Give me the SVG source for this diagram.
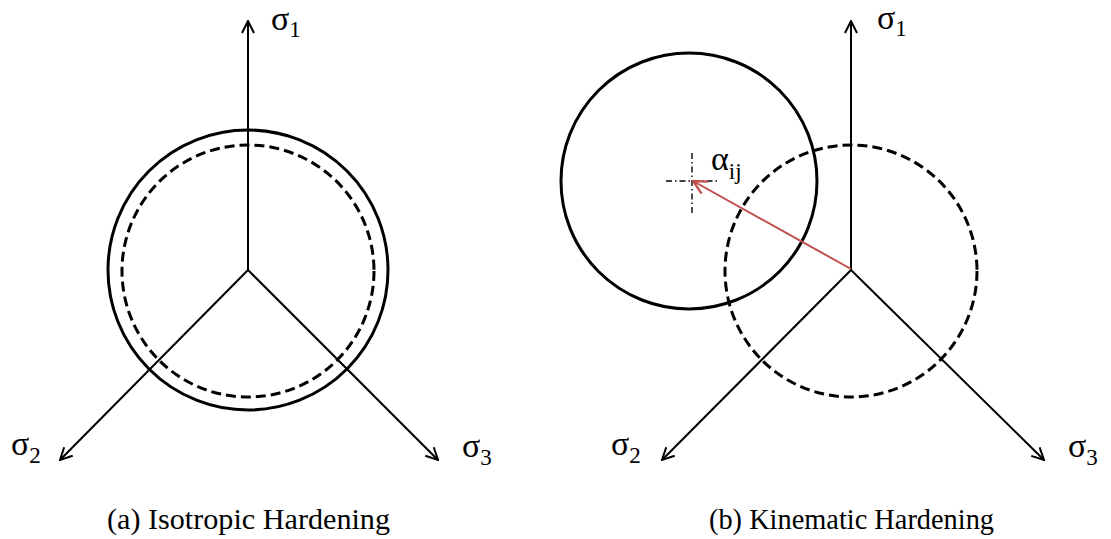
<svg xmlns="http://www.w3.org/2000/svg" width="1111" height="539" viewBox="0 0 1111 539">
<style>
.ax{stroke:#000;stroke-width:2;fill:none}
.solid{stroke:#000;stroke-width:3;fill:none}
.dash{stroke:#000;stroke-width:3;fill:none;stroke-dasharray:10 5}
.lbl{font-family:"Liberation Serif","DejaVu Serif",serif;font-size:34px;fill:#000}
.sub{font-size:23px}
.cap{font-family:"Liberation Serif","DejaVu Serif",serif;font-size:29px;fill:#000}
.cross{stroke:#000;stroke-width:1.4;stroke-dasharray:6 3 1.5 3;fill:none}
</style>
<defs>
<marker id="arr" viewBox="0 0 14 14" refX="13" refY="7" markerWidth="14" markerHeight="14" markerUnits="userSpaceOnUse" orient="auto">
<path d="M1,1 L13,7 L1,13" fill="none" stroke="#000" stroke-width="2"/>
</marker>
<marker id="arrR" viewBox="0 0 14 14" refX="13" refY="7" markerWidth="16" markerHeight="16" markerUnits="userSpaceOnUse" orient="auto">
<path d="M1,1 L13,7 L1,13" fill="none" stroke="#c0504d" stroke-width="2"/>
</marker>
</defs>
<rect width="1111" height="539" fill="#fff"/>
<g id="isotropic">
<circle class="solid" cx="248" cy="270" r="140"/>
<circle class="dash" cx="248" cy="271" r="126"/>
</g>
<g id="kinematic">
<circle class="solid" cx="689" cy="181" r="128"/>
<circle class="dash" cx="851" cy="271" r="126"/>
<line class="cross" x1="692" y1="153" x2="692" y2="213"/>
<line class="cross" x1="666" y1="181" x2="718" y2="181"/>
</g>
<g id="connectors">
<line class="ax" x1="248" y1="270" x2="248" y2="21" marker-end="url(#arr)"/>
<line class="ax" x1="248" y1="270" x2="60" y2="460" marker-end="url(#arr)"/>
<line class="ax" x1="248" y1="270" x2="438" y2="460" marker-end="url(#arr)"/>
<line class="ax" x1="851" y1="270" x2="851" y2="21" marker-end="url(#arr)"/>
<line class="ax" x1="851" y1="270" x2="662" y2="460" marker-end="url(#arr)"/>
<line class="ax" x1="851" y1="270" x2="1044" y2="460" marker-end="url(#arr)"/>
<line x1="851" y1="269" x2="693" y2="181" stroke="#c0504d" stroke-width="2" marker-end="url(#arrR)"/>
</g>
<g id="labels">
<text class="lbl" x="271" y="30">σ<tspan class="sub" dy="7">1</tspan></text>
<text class="lbl" x="11" y="455">σ<tspan class="sub" dy="8">2</tspan></text>
<text class="lbl" x="462" y="457">σ<tspan class="sub" dy="8">3</tspan></text>
<text class="lbl" x="877" y="29">σ<tspan class="sub" dy="7">1</tspan></text>
<text class="lbl" x="611" y="455">σ<tspan class="sub" dy="8">2</tspan></text>
<text class="lbl" x="1068" y="457">σ<tspan class="sub" dy="8">3</tspan></text>
<text class="lbl" x="711" y="170">α<tspan class="sub" dy="9">ij</tspan></text>
<text class="cap" x="107" y="529" textLength="283" lengthAdjust="spacingAndGlyphs">(a) Isotropic Hardening</text>
<text class="cap" x="709" y="529" textLength="285" lengthAdjust="spacingAndGlyphs">(b) Kinematic Hardening</text>
</g>
</svg>
